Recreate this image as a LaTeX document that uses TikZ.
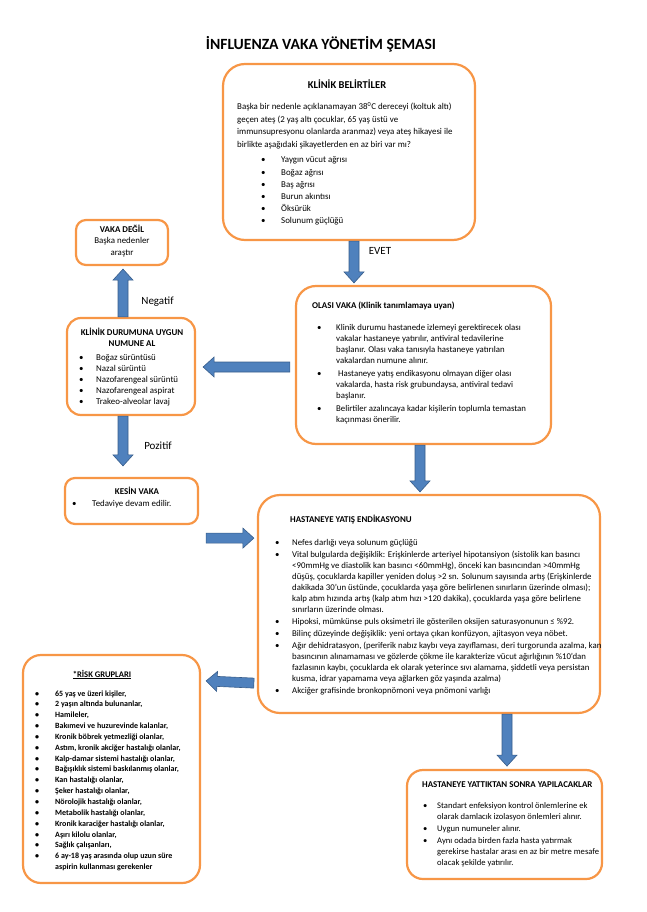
\documentclass[tikz,border=0pt]{standalone}
\usepackage{fontspec}
\setmainfont{Carlito}
\usetikzlibrary{calc}
\definecolor{kututuruncu}{HTML}{F79646}
\definecolor{okmavi}{HTML}{4F81BD}
\definecolor{okkenar}{HTML}{385D8A}
\begin{document}
\begin{tikzpicture}[x=1pt,y=-1pt,%
% common options for the boxes:
kutu/.style = {draw=kututuruncu, line width=2.2pt, rounded corners=16pt,
            fill=white, inner sep=0},
% common options for the block arrows:
okblok/.style = {draw=okkenar, fill=okmavi, line width=0.6pt,
            to path={let \p1=($(\tikztotarget)-(\tikztostart)$),
            \n1={veclen(\x1,\y1)}, \n2={atan2(\y1,\x1)} in
            {[shift={(\tikztostart)}, rotate=\n2] (0,-5) -- ({\n1-11},-5)
            -- ({\n1-11},-10) -- (\n1,0) -- ({\n1-11},10) -- ({\n1-11},5)
            -- (0,5) -- cycle}}},
% common options for the texts:
yazi/.style = {inner sep=0, anchor=base west, font=\fontsize{8.9}{11}\selectfont},
baslikyazi/.style = {yazi, font=\fontsize{8.9}{11}\selectfont\bfseries},
ortayazi/.style = {yazi, anchor=base},
etiket/.style = {inner sep=0, anchor=base, font=\fontsize{11}{13}\selectfont}]
\useasboundingbox (0,0) rectangle (646,912);
\node[inner sep=0, anchor=base, font=\fontsize{15.6}{18}\selectfont\bfseries] (baslik) at (321,50) {İNFLUENZA VAKA YÖNETİM ŞEMASI};
% boxes
\node[kutu, rounded corners=22pt, minimum width=252pt, minimum height=176pt] (klinik) at (349,152) {};
\node[kutu, rounded corners=10pt, minimum width=92pt, minimum height=45pt] (vakadegil) at (122,242.5) {};
\node[kutu, rounded corners=14pt, minimum width=128pt, minimum height=97pt] (numune) at (131,366.5) {};
\node[kutu, rounded corners=20pt, minimum width=255pt, minimum height=158pt] (olasi) at (423.5,365) {};
\node[kutu, rounded corners=10pt, minimum width=133pt, minimum height=46pt] (kesin) at (131.5,501) {};
\node[kutu, rounded corners=22pt, minimum width=342pt, minimum height=218pt] (yatis) at (429,604) {};
\node[kutu, rounded corners=18pt, minimum width=177pt, minimum height=228pt] (risk) at (111.5,769) {};
\node[kutu, rounded corners=16pt, minimum width=195pt, minimum height=109pt] (sonra) at (504.5,824.5) {};
% KLINIK BELIRTILER
\node[ortayazi, font=\fontsize{10.5}{12}\selectfont\bfseries] (klinikbas) at (347,89) {KLİNİK BELİRTİLER};
\node[yazi, font=\fontsize{8.9}{12.4}\selectfont] (klinikmetin) at (237,110)
  {\begin{tabular}[t]{@{}l@{}}
   Başka bir nedenle açıklanamayan 38\textsuperscript{0}C dereceyi (koltuk altı)\\
   geçen ateş (2 yaş altı çocuklar, 65 yaş üstü ve\\
   immunsupresyonu olanlarda aranmaz) veya ateş hikayesi ile\\
   birlikte aşağıdaki şikayetlerden en az biri var mı?
   \end{tabular}};
\node[yazi, font=\fontsize{8.9}{12.2}\selectfont] (klinikliste) at (261,163)
  {\begin{tabular}[t]{@{}p{20pt}@{}l@{}}
   \textbullet & Yaygın vücut ağrısı\\
   \textbullet & Boğaz ağrısı\\
   \textbullet & Baş ağrısı\\
   \textbullet & Burun akıntısı\\
   \textbullet & Öksürük\\
   \textbullet & Solunum güçlüğü
   \end{tabular}};
% VAKA DEGIL
\node[ortayazi, font=\fontsize{8.9}{11.8}\selectfont] (vakadegilyazi) at (122,232)
  {\begin{tabular}[t]{@{}c@{}}
   \textbf{VAKA DEĞİL}\\Başka nedenler\\araştır
   \end{tabular}};
% NUMUNE AL
\node[ortayazi, font=\fontsize{8.9}{11.5}\selectfont\bfseries] (numunebas) at (132,335)
  {\begin{tabular}[t]{@{}c@{}}
   KLİNİK DURUMUNA UYGUN\\NUMUNE AL
   \end{tabular}};
\node[yazi] (numuneliste) at (79,360)
  {\begin{tabular}[t]{@{}p{17pt}@{}l@{}}
   \textbullet & Boğaz sürüntüsü\\
   \textbullet & Nazal sürüntü\\
   \textbullet & Nazofarengeal sürüntü\\
   \textbullet & Nazofarengeal aspirat\\
   \textbullet & Trakeo-alveolar lavaj
   \end{tabular}};
% OLASI VAKA
\node[baslikyazi] (olasibas) at (312,308) {OLASI VAKA (Klinik tanımlamaya uyan)};
\node[yazi, font=\fontsize{8.8}{11}\selectfont] (olasiliste) at (317,330)
  {\begin{tabular}[t]{@{}p{19pt}@{}l@{}}
   \textbullet & Klinik durumu hastanede izlemeyi gerektirecek olası\\
    & vakalar hastaneye yatırılır, antiviral tedavilerine\\
    & başlanır. Olası vaka tanısıyla hastaneye yatırılan\\
    & vakalardan numune alınır.\\[2pt]
   \textbullet & \ Hastaneye yatış endikasyonu olmayan diğer olası\\
    & vakalarda, hasta risk grubundaysa, antiviral tedavi\\
    & başlanır.\\[2pt]
   \textbullet & Belirtiler azalıncaya kadar kişilerin toplumla temastan\\
    & kaçınması önerilir.
   \end{tabular}};
% KESIN VAKA
\node[ortayazi, font=\fontsize{8.9}{11}\selectfont\bfseries] (kesinbas) at (137,494) {KESİN VAKA};
\node[yazi] (kesinliste) at (72,506)
  {\begin{tabular}[t]{@{}p{20pt}@{}l@{}}
   \textbullet & Tedaviye devam edilir.
   \end{tabular}};
% HASTANEYE YATIS ENDIKASYONU
\node[baslikyazi] (yatisbas) at (290,522) {HASTANEYE YATIŞ ENDİKASYONU};
\node[yazi, font=\fontsize{8.8}{11}\selectfont] (yatisliste) at (275,545)
  {\begin{tabular}[t]{@{}p{17pt}@{}l@{}}
   \textbullet & Nefes darlığı veya solunum güçlüğü\\[1pt]
   \textbullet & Vital bulgularda değişiklik: Erişkinlerde arteriyel hipotansiyon (sistolik kan basıncı\\
    & <90mmHg ve diastolik kan basıncı <60mmHg), önceki kan basıncından >40mmHg\\
    & düşüş, çocuklarda kapiller yeniden doluş >2 sn. Solunum sayısında artış (Erişkinlerde\\
    & dakikada 30’un üstünde, çocuklarda yaşa göre belirlenen sınırların üzerinde olması);\\
    & kalp atım hızında artış (kalp atım hızı >120 dakika), çocuklarda yaşa göre belirlene\\
    & sınırların üzerinde olması.\\[1pt]
   \textbullet & Hipoksi, mümkünse puls oksimetri ile gösterilen oksijen saturasyonunun ≤ \%92.\\[1pt]
   \textbullet & Bilinç düzeyinde değişiklik: yeni ortaya çıkan konfüzyon, ajitasyon veya nöbet.\\[1pt]
   \textbullet & Ağır dehidratasyon, (periferik nabız kaybı veya zayıflaması, deri turgorunda azalma, kan\\
    & basıncının alınamaması ve gözlerde çökme ile karakterize vücut ağırlığının \%10’dan\\
    & fazlasının kaybı, çocuklarda ek olarak yeterince sıvı alamama, şiddetli veya persistan\\
    & kusma, idrar yapamama veya ağlarken göz yaşında azalma)\\[1pt]
   \textbullet & Akciğer grafisinde bronkopnömoni veya pnömoni varlığı
   \end{tabular}};
% RISK GRUPLARI
\node[ortayazi, font=\fontsize{8.6}{11}\selectfont\bfseries] (riskbas) at (102,677) {\underline{*RİSK GRUPLARI}};
\node[yazi, font=\fontsize{8}{10.85}\selectfont\bfseries] (riskliste) at (35,696)
  {\begin{tabular}[t]{@{}p{20pt}@{}l@{}}
   \textbullet & 65 yaş ve üzeri kişiler,\\
   \textbullet & 2 yaşın altında bulunanlar,\\
   \textbullet & Hamileler,\\
   \textbullet & Bakımevi ve huzurevinde kalanlar,\\
   \textbullet & Kronik böbrek yetmezliği olanlar,\\
   \textbullet & Astım, kronik akciğer hastalığı olanlar,\\
   \textbullet & Kalp-damar sistemi hastalığı olanlar,\\
   \textbullet & Bağışıklık sistemi baskılanmış olanlar,\\
   \textbullet & Kan hastalığı olanlar,\\
   \textbullet & Şeker hastalığı olanlar,\\
   \textbullet & Nörolojik hastalığı olanlar,\\
   \textbullet & Metabolik hastalığı olanlar,\\
   \textbullet & Kronik karaciğer hastalığı olanlar,\\
   \textbullet & Aşırı kilolu olanlar,\\
   \textbullet & Sağlık çalışanları,\\
   \textbullet & 6 ay-18 yaş arasında olup uzun süre\\
    & aspirin kullanması gerekenler
   \end{tabular}};
% HASTANEYE YATTIKTAN SONRA
\node[baslikyazi] (sonrabas) at (422,787) {HASTANEYE YATTIKTAN SONRA YAPILACAKLAR};
\node[yazi, font=\fontsize{8.6}{11}\selectfont] (sonraliste) at (423,808)
  {\begin{tabular}[t]{@{}p{14pt}@{}l@{}}
   \textbullet & Standart enfeksiyon kontrol önlemlerine ek\\
    & olarak damlacık izolasyon önlemleri alınır.\\[1pt]
   \textbullet & Uygun numuneler alınır.\\[1pt]
   \textbullet & Aynı odada birden fazla hasta yatırmak\\
    & gerekirse hastalar arası en az bir metre mesafe\\
    & olacak şekilde yatırılır.
   \end{tabular}};
% arrow labels
\node[etiket] (evet) at (380,254) {EVET};
\node[etiket] (negatif) at (157.5,304) {Negatif};
\node[etiket] (pozitif) at (158,449) {Pozitif};
% block arrows
\draw[okblok] ($(klinik.south)+(5,0)$) to ($(klinik.south |- olasi.north)+(5,-2)$);
\draw[okblok] ($(olasi.west)+(-5,2)$) to ($(numune.east |- olasi.west)+(7,2)$);
\draw[okblok] ($(vakadegil.south |- numune.north)+(1,0)$) to ($(vakadegil.south)+(1,3)$);
\draw[okblok] ($(vakadegil.south |- numune.south)+(1,0)$) to ($(vakadegil.south |- kesin.north)+(1,-11)$);
\draw[okblok] ($(olasi.south)+(-3.5,0)$) to ($(olasi.south |- yatis.north)+(-3.5,-2)$);
\draw[okblok] ($(kesin.south east)+(7,13)$) to ($(yatis.west |- kesin.south east)+(-3,13)$);
\draw[okblok] ($(yatis.south west)+(-3,-31)$) to ($(risk.north east)+(5,27)$);
\draw[okblok] ($(yatis.south)+(78,0)$) to ($(yatis.south -| sonra.north)+(2.5,52)$);
\end{tikzpicture}
\end{document}
